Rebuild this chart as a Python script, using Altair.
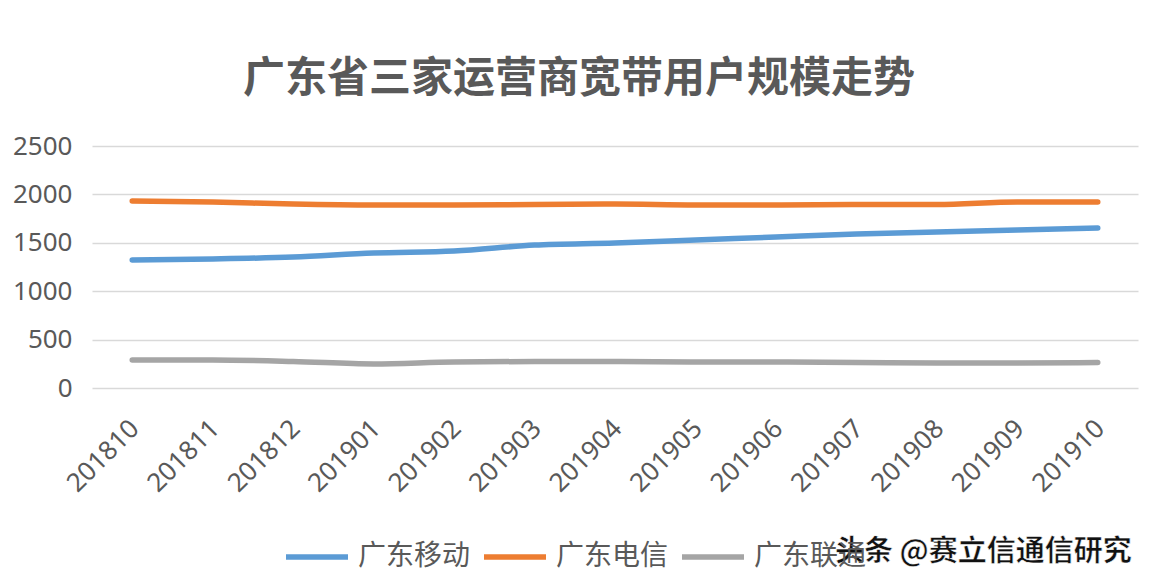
import altair as alt
import pandas as pd

months = ["201810", "201811", "201812", "201901", "201902", "201903", "201904",
          "201905", "201906", "201907", "201908", "201909", "201910"]
mobile = [1322, 1333, 1353, 1395, 1415, 1477, 1498, 1529, 1560, 1591, 1612, 1632, 1653]
telecom = [1932, 1921, 1900, 1890, 1890, 1895, 1900, 1890, 1890, 1895, 1895, 1921, 1921]
unicom = [289, 289, 274, 248, 269, 274, 274, 269, 269, 264, 258, 258, 263]
series_names = ["广东移动", "广东电信", "广东联通"]
colors = ["#5B9BD5", "#ED7D31", "#A5A5A5"]
y_ticks = [0, 500, 1000, 1500, 2000, 2500]
title_text = "广东省三家运营商宽带用户规模走势"
watermark = "头条 @赛立信通信研究"

rows = []
for name, vals in zip(series_names, [mobile, telecom, unicom]):
    for m, v in zip(months, vals):
        rows.append({"month": m, "value": v, "series": name})
df = pd.DataFrame(rows)

gray = "#595959"

lines = alt.Chart(df).mark_line(strokeWidth=5.5, strokeCap="round", interpolate="monotone").encode(
    x=alt.X("month:N", sort=months, title=None,
            scale=alt.Scale(paddingInner=0, paddingOuter=0),
            axis=alt.Axis(labelAngle=-45, labelFontSize=26, labelColor=gray, labelFont="Noto Sans",
                          ticks=False, domain=False, grid=False, labelPadding=27, labelOffset=-7)),
    y=alt.Y("value:Q", title=None, scale=alt.Scale(domain=[0, 2500], nice=False),
            axis=alt.Axis(values=y_ticks, format="d", labelFontSize=26, labelColor=gray,
                          labelFont="Noto Sans", ticks=False, domain=False,
                          gridColor="#D9D9D9", gridWidth=1.5, labelPadding=20)),
    color=alt.Color("series:N", sort=series_names,
                    scale=alt.Scale(domain=series_names, range=colors),
                    legend=alt.Legend(title=None, orient="none", direction="horizontal",
                                      legendX=191, legendY=377,
                                      symbolType="stroke", symbolSize=3844, symbolStrokeWidth=5.5,
                                      labelFontSize=28, labelColor=gray, labelFont="Noto Sans CJK SC",
                                      labelOffset=7, columnPadding=2, labelLimit=300)),
)

wm = alt.Chart(pd.DataFrame({"t": [watermark]})).mark_text(
    align="left", baseline="middle", fontSize=29, font="Noto Sans CJK SC", fontWeight="bold",
    color="#111111", stroke="white", strokeWidth=0.5
).encode(x=alt.value(743), y=alt.value(406), text="t:N")

chart = alt.layer(lines, wm).properties(
    width=1046, height=242,
    title=alt.TitleParams(title_text, fontSize=42, font="Noto Sans CJK SC", fontWeight="bold",
                          color=gray, anchor="middle", frame="group", offset=32, dx=-36),
    autosize=alt.AutoSizeParams(type="none"),
    padding={"left": 84, "top": 138, "right": 3, "bottom": 190},
).configure_view(stroke=None)

chart.save("out.html", embed_options={"renderer": "svg", "actions": False})
